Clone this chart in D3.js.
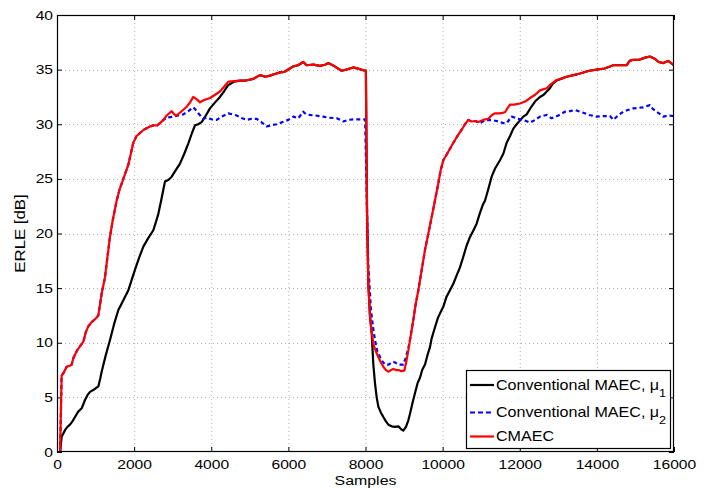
<!DOCTYPE html>
<html><head><meta charset="utf-8">
<script src="https://cdn.jsdelivr.net/npm/d3@7"></script>
<style>body{margin:0;background:#fff}svg{display:block}text{font-family:"Liberation Sans",Arial,sans-serif;fill:#000}</style>
</head><body><svg id="c" width="711" height="488"></svg>
<script>
const xTicks=[0,2000,4000,6000,8000,10000,12000,14000,16000];
const yTicks=[0,5,10,15,20,25,30,35,40];
const seriesNames=["Conventional MAEC, μ","Conventional MAEC, μ","CMAEC"];
const seriesSubs=["1","2",""];
const seriesColors=["#000000","#0000ff","#ff0000"];

const black=[[80,0],[121,1.4],[207,2.0],[270,2.3],[337,2.5],[400,2.8],[467,3.2],[550,3.7],[640,4.0],[726,4.76],[790,5.2],[856,5.5],[950,5.7],[1072,6.0],[1120,6.7],[1158,7.35],[1260,8.8],[1374,10.25],[1480,11.7],[1591,13.0],[1720,13.9],[1850,14.8],[1940,15.8],[2023,16.7],[2130,17.8],[2239,18.8],[2370,19.6],[2498,20.3],[2560,21.0],[2628,21.8],[2700,23.0],[2757,24.0],[2800,24.75],[2887,24.9],[2974,25.2],[3080,25.8],[3190,26.4],[3300,27.3],[3406,28.25],[3500,29.2],[3578,29.9],[3660,30.0],[3751,30.2],[3860,30.8],[3967,31.45],[4100,32.0],[4226,32.5],[4330,33.0],[4442,33.6],[4600,33.9],[4745,34.0],[4900,34.0],[5091,34.15],[5264,34.5],[5400,34.35],[5523,34.45],[5650,34.6],[5782,34.75],[5900,34.8],[6041,35.1],[6127,35.3],[6250,35.4],[6386,35.7],[6473,35.4],[6650,35.45],[6818,35.35],[6950,35.45],[7034,35.6],[7200,35.3],[7380,34.9],[7500,35.0],[7683,35.2],[7850,35.05],[7986,34.9],[8010,34.9],[8040,22.0],[8073,15.4],[8117,12.4],[8160,10.9],[8203,8.0],[8246,6.3],[8290,5.0],[8333,4.15],[8400,3.6],[8463,3.2],[8530,2.8],[8593,2.5],[8680,2.35],[8764,2.3],[8852,2.35],[8920,2.1],[8980,1.95],[9050,2.3],[9111,2.9],[9154,3.5],[9220,4.5],[9284,5.4],[9350,6.3],[9413,6.8],[9470,7.5],[9543,8.0],[9610,8.9],[9672,9.6],[9716,10.4],[9800,11.4],[9880,12.3],[9975,13.0],[10018,13.3],[10100,14.2],[10191,14.8],[10277,15.4],[10380,16.3],[10450,16.9],[10530,17.8],[10623,18.9],[10700,19.6],[10800,20.3],[10882,20.9],[10960,21.8],[11040,22.6],[11098,23.0],[11180,24.0],[11271,25.2],[11360,25.95],[11487,26.7],[11574,27.3],[11660,28.3],[11746,28.9],[11833,29.6],[11920,30.0],[12092,30.7],[12179,30.9],[12300,31.6],[12400,32.1],[12524,32.5],[12620,32.7],[12700,33.0],[12783,33.3],[12850,33.7],[12956,34.0],[13100,34.2],[13215,34.35],[13400,34.5],[13561,34.65],[13800,34.9],[13994,35.0],[14200,35.1],[14426,35.4],[14600,35.4],[14772,35.4],[14850,35.8],[14944,35.9],[15100,35.9],[15250,36.1],[15376,36.2],[15500,36.0],[15600,35.7],[15722,35.6],[15850,35.8],[16000,35.4]];

const blue=[[80,0],[120,7.0],[180,7.3],[250,7.8],[330,7.9],[380,8.0],[424,8.6],[520,9.3],[600,9.7],[683,10.1],[750,11.0],[812,11.5],[900,11.9],[1000,12.2],[1072,12.5],[1120,13.6],[1158,14.5],[1245,16.0],[1300,17.6],[1374,19.7],[1450,21.3],[1547,23.0],[1620,24.0],[1720,25.0],[1800,25.8],[1850,26.3],[1920,27.4],[1979,28.3],[2060,28.9],[2152,29.2],[2250,29.5],[2411,29.8],[2500,29.9],[2600,29.9],[2670,30.1],[2760,30.4],[2844,30.6],[3017,30.7],[3150,30.8],[3276,30.9],[3406,31.2],[3535,31.55],[3600,31.3],[3665,31.0],[3794,30.5],[3880,30.6],[3967,30.5],[4060,30.4],[4140,30.4],[4270,30.7],[4442,31.0],[4560,30.9],[4659,30.8],[4800,30.55],[4918,30.4],[5050,30.5],[5178,30.5],[5300,30.2],[5437,29.8],[5550,29.9],[5696,30.0],[5850,30.2],[5998,30.4],[6127,30.7],[6257,30.55],[6386,31.15],[6460,30.9],[6560,30.85],[6700,30.8],[6905,30.7],[7050,30.6],[7253,30.55],[7424,30.25],[7550,30.4],[7683,30.45],[7850,30.45],[7990,30.45],[8040,22.0],[8073,17.0],[8142,13.0],[8200,11.3],[8246,10.25],[8300,9.3],[8376,8.7],[8440,8.3],[8505,8.0],[8600,8.0],[8700,8.25],[8764,8.2],[8850,8.0],[8980,8.0],[9040,8.6],[9111,9.5],[9175,10.7],[9240,12.1],[9300,13.5],[9370,14.8],[9450,16.5],[9543,18.5],[9630,20.0],[9716,21.5],[9800,23.0],[9889,24.6],[9950,25.8],[10018,26.7],[10150,27.5],[10277,28.3],[10380,28.9],[10494,29.5],[10580,30.0],[10667,30.4],[10750,30.25],[10850,30.3],[10968,30.1],[11100,30.35],[11228,30.4],[11400,30.3],[11574,30.1],[11660,30.1],[11790,30.7],[11950,30.5],[12092,30.4],[12265,30.15],[12400,30.4],[12524,30.7],[12697,30.85],[12826,30.55],[13000,30.8],[13172,31.15],[13300,31.2],[13432,31.3],[13648,31.05],[13800,30.85],[13994,30.7],[14200,30.75],[14340,30.75],[14426,30.4],[14550,30.8],[14685,31.15],[14800,31.3],[14944,31.45],[15203,31.55],[15376,31.75],[15450,31.4],[15549,31.15],[15722,30.7],[15850,30.8],[16000,30.75]];

const red=[[80,0],[120,7.0],[180,7.3],[250,7.8],[330,7.9],[380,8.0],[424,8.6],[520,9.3],[600,9.7],[683,10.1],[750,11.0],[812,11.5],[900,11.9],[1000,12.2],[1072,12.5],[1120,13.6],[1158,14.5],[1245,16.0],[1300,17.6],[1374,19.7],[1450,21.3],[1547,23.0],[1620,24.0],[1720,25.0],[1800,25.8],[1850,26.3],[1920,27.4],[1979,28.3],[2060,28.9],[2152,29.2],[2250,29.5],[2411,29.8],[2500,29.9],[2600,29.9],[2670,30.1],[2760,30.4],[2844,30.8],[2974,31.2],[3040,30.9],[3104,30.8],[3200,31.1],[3363,31.6],[3450,32.0],[3535,32.5],[3620,32.3],[3708,32.0],[3800,32.2],[3967,32.4],[4100,32.7],[4226,33.0],[4300,33.3],[4442,33.9],[4600,33.95],[4745,34.0],[4900,34.0],[5091,34.15],[5264,34.5],[5400,34.35],[5523,34.45],[5650,34.6],[5782,34.75],[5900,34.8],[6041,35.1],[6127,35.3],[6250,35.4],[6386,35.7],[6473,35.4],[6650,35.45],[6818,35.35],[6950,35.45],[7034,35.6],[7200,35.3],[7380,34.9],[7500,35.0],[7683,35.2],[7850,35.05],[7986,34.9],[8010,34.9],[8040,21.6],[8073,15.4],[8117,12.4],[8160,11.0],[8203,9.9],[8270,9.2],[8333,8.7],[8400,8.2],[8463,7.8],[8530,7.5],[8593,7.35],[8660,7.5],[8722,7.6],[8790,7.5],[8852,7.5],[8930,7.4],[9007,7.45],[9060,8.3],[9111,9.3],[9175,10.7],[9240,12.1],[9300,13.5],[9370,14.8],[9450,16.5],[9543,18.5],[9630,20.0],[9716,21.5],[9800,23.0],[9889,24.6],[9950,25.8],[10018,26.7],[10150,27.5],[10277,28.3],[10380,28.9],[10494,29.5],[10580,30.0],[10667,30.4],[10750,30.25],[10850,30.3],[10926,30.2],[11050,30.4],[11185,30.5],[11280,30.85],[11358,31.0],[11487,31.0],[11617,31.1],[11746,31.8],[11850,31.8],[12006,31.9],[12150,32.1],[12265,32.4],[12400,32.7],[12524,33.1],[12697,33.3],[12820,33.7],[12956,34.05],[13100,34.2],[13215,34.35],[13400,34.5],[13561,34.65],[13800,34.9],[13994,35.0],[14200,35.1],[14426,35.4],[14600,35.4],[14772,35.4],[14850,35.8],[14944,35.9],[15100,35.9],[15250,36.1],[15376,36.2],[15500,36.0],[15600,35.7],[15722,35.6],[15850,35.8],[16000,35.4]];

const L=57,T=15,R=674,B=452;
const svg=d3.select("#c");
const x=d3.scaleLinear().domain([0,16000]).range([L,R]);
const y=d3.scaleLinear().domain([0,40]).range([B,T]);

// grid
const g=svg.append("g");
g.selectAll(".gx").data(xTicks.slice(1,-1)).enter().append("line")
 .attr("x1",d=>x(d)+0.5).attr("x2",d=>x(d)+0.5).attr("y1",T).attr("y2",B)
 .attr("stroke","#b0b0b0").attr("stroke-dasharray","1,3");
g.selectAll(".gy").data(yTicks.slice(1,-1)).enter().append("line")
 .attr("y1",d=>Math.round(y(d))+0.5).attr("y2",d=>Math.round(y(d))+0.5).attr("x1",L).attr("x2",R)
 .attr("stroke","#b0b0b0").attr("stroke-dasharray","1,3");

// axes (MATLAB style inward ticks on all sides)
const fmt=d=>String(d);
const axB=svg.append("g").attr("transform",`translate(0,${B})`).call(d3.axisBottom(x).tickValues(xTicks).tickFormat(fmt).tickSizeInner(-5).tickSizeOuter(0).tickPadding(8));
const axT=svg.append("g").attr("transform",`translate(0,${T})`).call(d3.axisTop(x).tickValues(xTicks).tickFormat("").tickSizeInner(-5).tickSizeOuter(0));
const axL=svg.append("g").attr("transform",`translate(${L},0)`).call(d3.axisLeft(y).tickValues(yTicks).tickFormat(fmt).tickSizeInner(-5).tickSizeOuter(0).tickPadding(6));
const axR=svg.append("g").attr("transform",`translate(${R},0)`).call(d3.axisRight(y).tickValues(yTicks).tickFormat("").tickSizeInner(-5).tickSizeOuter(0));
[axB,axT,axL,axR].forEach(a=>{a.select(".domain").remove();a.selectAll("line").attr("stroke","#000");a.selectAll("text").attr("font-size",12.5).attr("font-family","Liberation Sans, Arial, sans-serif").attr("fill","#000");});
axB.selectAll("text").attr("y",0).attr("dy",null).attr("transform","translate(0,17) scale(1.25,1)");
axL.selectAll("text").attr("x",0).attr("transform","translate(-4,0) scale(1.25,1)");

svg.append("defs").append("clipPath").attr("id","clip").append("rect").attr("x",L).attr("y",T).attr("width",R-L).attr("height",B-T);

const line=d3.line().x(d=>x(d[0])).y(d=>y(d[1]));
const data=[black,blue,red];
const plot=svg.append("g").attr("clip-path","url(#clip)");
data.forEach((s,i)=>{
 plot.append("path").datum(s).attr("d",line).attr("fill","none")
  .attr("stroke",seriesColors[i]).attr("stroke-width",2.2).attr("stroke-linejoin","round")
  .attr("stroke-dasharray",i===1?"4,3":null);
});

// frame
svg.append("rect").attr("x",L+0.5).attr("y",T+0.5).attr("width",R-L-1).attr("height",B-T-1).attr("fill","none").attr("stroke","#000").attr("stroke-width",1.2);

// labels
svg.append("text").attr("transform",`translate(${(L+R)/2},484.5) scale(1.18,1)`).attr("text-anchor","middle").attr("font-size",13.5).text("Samples");
svg.append("text").attr("transform",`translate(25,${(T+B)/2}) rotate(-90) scale(1.2,1)`).attr("text-anchor","middle").attr("font-size",14).text("ERLE [dB]");

// legend
const lg=svg.append("g");
lg.append("rect").attr("x",466.5).attr("y",370.5).attr("width",204).attr("height",78).attr("fill","#fff").attr("stroke","#000").attr("stroke-width",1.2);
const rowsY=[385,412.5,436.5];
seriesNames.forEach((n,i)=>{
 lg.append("line").attr("x1",470).attr("x2",494).attr("y1",rowsY[i]).attr("y2",rowsY[i])
  .attr("stroke",seriesColors[i]).attr("stroke-width",2.2).attr("stroke-dasharray",i===1?"5,3":null);
 const t=lg.append("text").attr("transform",`translate(496,${rowsY[i]+4.5}) scale(1.15,1)`).attr("font-size",14);
 t.append("tspan").text(n);
 if(seriesSubs[i]) t.append("tspan").attr("dy",7).attr("font-size",11).text(seriesSubs[i]);
});
</script></body></html>
